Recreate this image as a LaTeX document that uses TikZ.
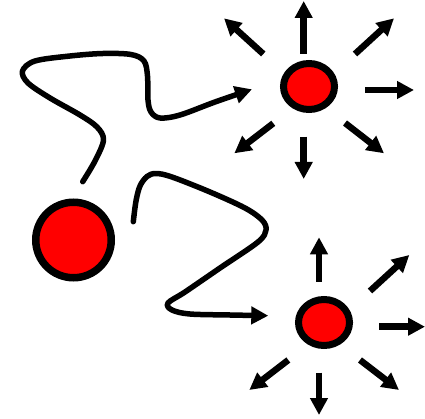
\documentclass[tikz,border=0pt]{standalone}
\usetikzlibrary{arrows.meta,shapes.geometric}
\begin{document}
\begin{tikzpicture}[x=1pt,y=-1pt,
  particle/.style={draw=black, fill=red, line width=7.5pt, inner sep=0pt},
  ray/.style={line width=6.5pt, -{Triangle[length=17pt,width=17pt]}},
  wander/.style={line width=5.5pt, line cap=round, line join=round, -{Triangle[length=17pt,width=17pt]}}]
\useasboundingbox (0,0) rectangle (425,419);
% particles
\node[particle, circle, minimum size=75.5pt] (big) at (73.5,240) {};
\node[particle, ellipse, line width=7pt, minimum width=51pt, minimum height=46pt] (top) at (309,86.5) {};
\node[particle, ellipse, line width=7pt, minimum width=51pt, minimum height=46pt] (bot) at (324,322.5) {};
% top burst
\coordinate (t1a) at (303.7,54);   \coordinate (t1b) at (303.7,1);
\coordinate (t2a) at (263.3,54);   \coordinate (t2b) at (224,18.3);
\coordinate (t3a) at (355,54);     \coordinate (t3b) at (394,18.3);
\coordinate (t4a) at (365,90);     \coordinate (t4b) at (414,90);
\coordinate (t5a) at (345,123);    \coordinate (t5b) at (384,153.3);
\coordinate (t6a) at (303.7,136.7);\coordinate (t6b) at (303.7,179);
\coordinate (t7a) at (273.3,123.3);\coordinate (t7b) at (234.3,153.3);
\foreach \i in {1,...,7} \draw[ray] (t\i a) -- (t\i b);
% bottom burst
\coordinate (b1a) at (319,281.7);  \coordinate (b1b) at (319,237.3);
\coordinate (b2a) at (370,291);    \coordinate (b2b) at (409.3,255);
\coordinate (b3a) at (379.3,326.7);\coordinate (b3b) at (425,326.7);
\coordinate (b4a) at (360,360);    \coordinate (b4b) at (399,390);
\coordinate (b5a) at (319,372.7);  \coordinate (b5b) at (319,415);
\coordinate (b6a) at (288.3,360);  \coordinate (b6b) at (249.3,390);
\foreach \i in {1,...,6} \draw[ray] (b\i a) -- (b\i b);
% wandering paths
\coordinate (p1s) at (82.7,181.7);
\coordinate (p1e) at (252,89.3);
\draw[wander] plot[smooth, tension=0.55] coordinates {(p1s) (95,161) (103.5,140) (97,127) (80,115) (50,98) (28,83) (22.5,71) (35,61) (70,56) (103,53.5) (131,54.5) (144,61) (147.5,76) (148,100) (151,112) (160,118) (180,115) (215,102) (p1e)};
\coordinate (p2s) at (133.3,221.7);
\coordinate (p2e) at (268.3,315.7);
\draw[wander] plot[smooth, tension=0.55] coordinates {(p2s) (136,201) (140,186) (147,176.5) (156,173.5) (172,177) (210,192) (245,208) (262,220) (266,230) (258,242) (220,268) (185,292) (168,303) (172,310) (190,314) (230,315) (p2e)};
\end{tikzpicture}
\end{document}
